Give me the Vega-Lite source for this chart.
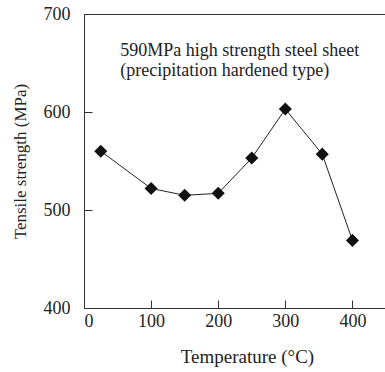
{
  "$schema": "https://vega.github.io/schema/vega-lite/v6.json",
  "width": 302,
  "height": 294,
  "autosize": "none",
  "padding": {"left": 84, "top": 14, "right": 0, "bottom": 64},
  "background": "white",
  "config": {
    "font": "Liberation Serif",
    "view": {"stroke": "#333", "strokeWidth": 1},
    "axis": {
      "domainColor": "#333",
      "tickColor": "#333",
      "labelColor": "#222",
      "titleColor": "#222",
      "labelFont": "Liberation Serif",
      "titleFont": "Liberation Serif",
      "labelFontSize": 18,
      "titleFontSize": 18,
      "titleFontWeight": "normal",
      "grid": false,
      "tickSize": -8
    }
  },
  "layer": [
    {
      "data": {
        "values": [
          {"t": 25, "s": 560},
          {"t": 100, "s": 522},
          {"t": 150, "s": 515},
          {"t": 200, "s": 517},
          {"t": 250, "s": 553},
          {"t": 300, "s": 603},
          {"t": 355, "s": 557},
          {"t": 400, "s": 469}
        ]
      },
      "encoding": {
        "x": {
          "field": "t",
          "type": "quantitative",
          "scale": {"domain": [0, 450], "nice": false},
          "axis": {"values": [0, 100, 200, 300, 400], "title": "Temperature (°C)", "titleFontSize": 19, "labelPadding": 12, "titlePadding": 17, "titleX": 163}
        },
        "y": {
          "field": "s",
          "type": "quantitative",
          "scale": {"domain": [400, 700], "nice": false, "zero": false},
          "axis": {"values": [400, 500, 600, 700], "title": "Tensile strength (MPa)", "titleFontSize": 17, "labelPadding": 22, "titlePadding": 14}
        }
      },
      "layer": [
        {"mark": {"type": "line", "color": "#222", "strokeWidth": 1}},
        {"mark": {"type": "point", "shape": "diamond", "filled": true, "color": "#111", "size": 170, "opacity": 1}}
      ]
    },
    {
      "data": {"values": [{"note": "590MPa high strength steel sheet"}]},
      "mark": {"type": "text", "align": "left", "baseline": "alphabetic", "fontSize": 18, "font": "Liberation Serif", "color": "#222", "lineHeight": 20},
      "encoding": {
        "x": {"datum": 54},
        "y": {"datum": 657},
        "text": {"value": ["590MPa high strength steel sheet", "(precipitation hardened type)"]}
      }
    }
  ]
}
